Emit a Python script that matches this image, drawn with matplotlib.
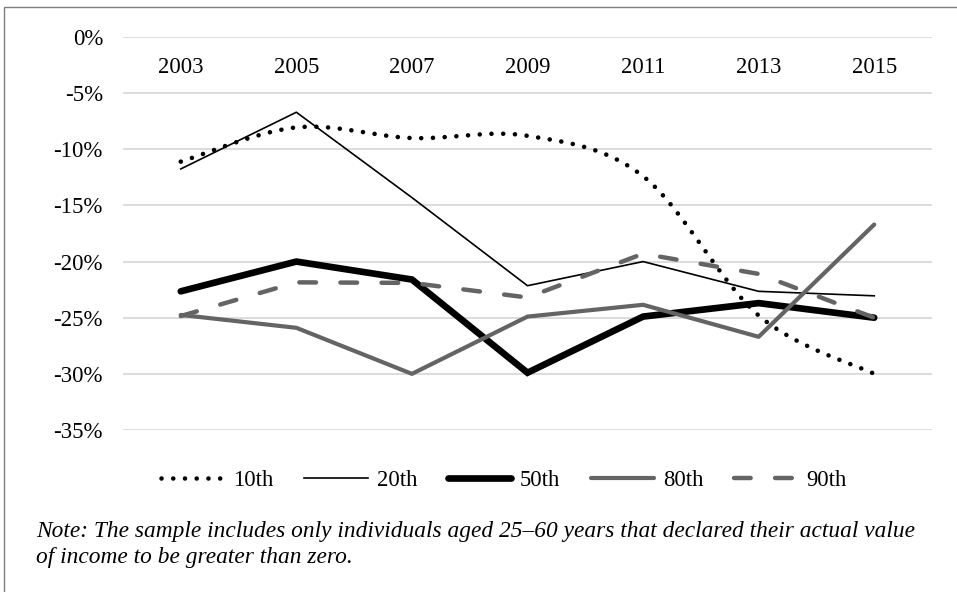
import numpy as np
import matplotlib
matplotlib.use("Agg")
import matplotlib.pyplot as plt
from matplotlib.patches import Rectangle
from matplotlib.ticker import FuncFormatter

years = ["2003", "2005", "2007", "2009", "2011", "2013", "2015"]
p10 = [-11.1, -8.05, -9.0, -8.8, -12.4, -24.8, -30.0]
p20 = [-11.75, -6.7, -14.3, -22.15, -20.0, -22.65, -23.05]
p50 = [-22.65, -20.0, -21.6, -29.9, -24.9, -23.7, -25.0]
p80 = [-24.75, -25.9, -30.0, -24.9, -23.85, -26.7, -16.7]
p90 = [-24.85, -21.85, -21.9, -23.2, -19.3, -21.1, -25.0]
yticks = [0, -5, -10, -15, -20, -25, -30, -35]
note1 = "Note: The sample includes only individuals aged 25\u201360 years that declared their actual value"
note2 = "of income to be greater than zero."

plt.rcParams['font.family'] = ['Liberation Serif', 'DejaVu Serif']

W, H = 957, 592
fig = plt.figure(figsize=(W / 100, H / 100), dpi=100)
ax = fig.add_axes([123 / W, 1 - 430 / H, (932 - 123) / W, (430 - 37) / H])

gray = '#646464'
x = np.arange(len(years))


def smooth(xs, ys, n=30):
    xs = np.asarray(xs, float)
    ys = np.asarray(ys, float)
    P = np.column_stack([xs, ys])
    out = [P[0]]
    for i in range(len(P) - 1):
        p0 = P[i - 1] if i > 0 else P[i]
        p1 = P[i]
        p2 = P[i + 1]
        p3 = P[i + 2] if i + 2 < len(P) else P[i + 1]
        c1 = p1 + (p2 - p0) / 6.0
        c2 = p2 - (p3 - p1) / 6.0
        t = np.linspace(0, 1, n)[1:, None]
        seg = ((1 - t) ** 3) * p1 + 3 * ((1 - t) ** 2) * t * c1 + 3 * (1 - t) * t ** 2 * c2 + t ** 3 * p2
        out.extend(seg)
    out = np.array(out)
    return out[:, 0], out[:, 1]


sx, sy = smooth(x, p10)
ax.plot(sx, sy, color='black', lw=3.3, ls=(0, (0.01, 2.55)), dash_capstyle='round', label='10th', zorder=3)
ax.plot(x, p20, color='black', lw=1.2, label='20th', zorder=4)
ax.plot(x, p50, color='black', lw=4.8, label='50th', solid_capstyle='round', solid_joinstyle='miter', zorder=5)
ax.plot(x, p80, color=gray, lw=3.0, label='80th', solid_capstyle='round', zorder=6)
ax.plot(x, p90, color=gray, lw=3.2, ls=(0, (3.75, 5.5)), dash_capstyle='round', label='90th', zorder=7)

ax.set_xlim(-0.5, len(years) - 0.5)
ax.set_ylim(-35, 0)
ax.set_yticks(yticks)
ax.yaxis.set_major_formatter(FuncFormatter(lambda v, p: f"{int(round(v))}%"))
ax.grid(axis='y', color='#d9d9d9', lw=1.3)
ax.set_axisbelow(True)
ax.tick_params(axis='y', length=0, pad=14.4, labelsize=16.5)
ax.set_xticks([])
for s in ax.spines.values():
    s.set_visible(False)

trans = ax.get_xaxis_transform()
for i, yr in enumerate(years):
    ax.text(i, (430 - 73) / (430 - 37), yr, transform=trans, ha='center', va='baseline', fontsize=16.3)

handles, labels = ax.get_legend_handles_labels()
fig.legend(handles, labels, loc='center', bbox_to_anchor=(504 / W, 1 - 480 / H), ncol=5,
           frameon=False, fontsize=16.3, handlelength=2.8, handletextpad=0.4, columnspacing=1.35,
           borderaxespad=0, borderpad=0)

fig.text(36 / W, 1 - 537 / H, note1, ha='left', va='baseline', fontsize=16.8, style='italic')
fig.text(36 / W, 1 - 563 / H, note2, ha='left', va='baseline', fontsize=16.8, style='italic')

fig.add_artist(Rectangle((3.5 / W, -0.2), 1.2, 1.2 - 6.5 / H, transform=fig.transFigure,
                         fill=False, edgecolor='#7f7f7f', lw=1.0))

fig.savefig("out.png", dpi=100)
